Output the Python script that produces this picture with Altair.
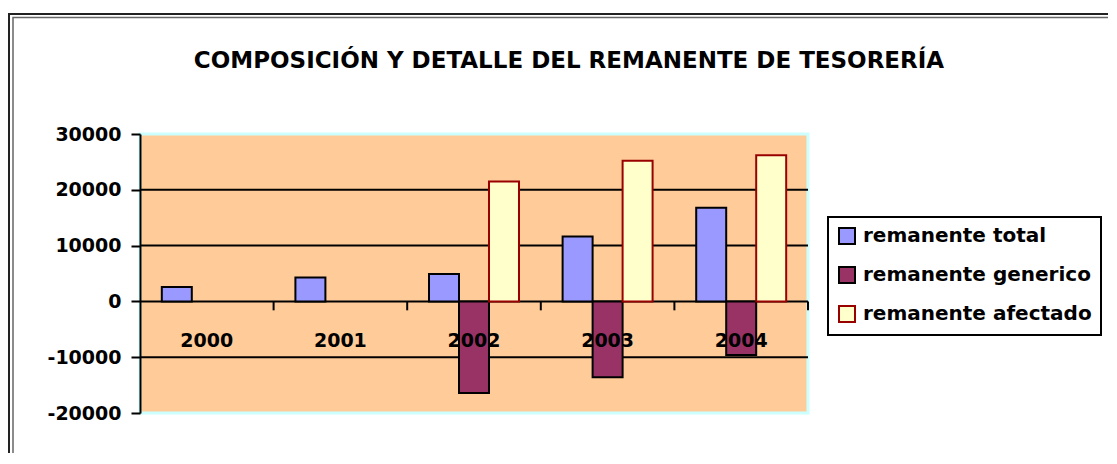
import altair as alt
import pandas as pd

years = ["2000", "2001", "2002", "2003", "2004"]
series = ["remanente total", "remanente generico", "remanente afectado"]
total = [2600, 4300, 4900, 11650, 16800]
generico = [None, None, -16400, -13600, -9600]
afectado = [None, None, 21500, 25200, 26200]
fill_colors = ["#9999FF", "#993366", "#FFFFCC"]
stroke_colors = ["#000000", "#000000", "#990000"]
y_ticks = [-20000, -10000, 0, 10000, 20000, 30000]
grid_values = [-10000, 0, 10000, 20000]
boundary_years = ["2001", "2002", "2003", "2004"]
title_text = "COMPOSICIÓN Y DETALLE DEL REMANENTE DE TESORERÍA"

rows = []
for name, vals in zip(series, [total, generico, afectado]):
    for yr, v in zip(years, vals):
        if v is not None:
            rows.append({"year": yr, "series": name, "value": v})
df = pd.DataFrame(rows)

FONT = "DejaVu Sans"
YDOM = alt.Scale(domain=[-20000, 30000], nice=False, zero=False)

leg = alt.Legend(
    title=None, orient="none", legendX=688, legendY=83,
    strokeColor="black", padding=9, symbolType="square", symbolSize=256,
    symbolStrokeWidth=2, labelFont=FONT, labelFontSize=20, labelFontWeight="bold",
    labelColor="black", rowPadding=15, labelOffset=6, labelLimit=400,
)

bars = alt.Chart(df).mark_bar(strokeWidth=2).encode(
    x=alt.X("year:N", scale=alt.Scale(domain=years, paddingInner=0, paddingOuter=0),
            axis=alt.Axis(title=None, orient="bottom", offset=-112, domain=False, ticks=False,
                          labelAngle=0, labelFont=FONT, labelFontSize=19, labelFontWeight="bold",
                          labelColor="black", labelPadding=30, zindex=1)),
    xOffset=alt.XOffset("series:N", scale=alt.Scale(domain=series, paddingInner=0, paddingOuter=0.727)),
    y=alt.Y("value:Q", scale=YDOM,
            axis=alt.Axis(values=y_ticks, title=None, grid=False, domainColor="black", domainWidth=2,
                          tickColor="black", tickWidth=2, tickSize=9, labelFont=FONT, labelFontSize=19,
                          labelFontWeight="bold", labelColor="black", labelPadding=10,
                          labelExpr="'' + datum.value")),
    fill=alt.Fill("series:N", scale=alt.Scale(domain=series, range=fill_colors), legend=leg),
    stroke=alt.Stroke("series:N", scale=alt.Scale(domain=series, range=stroke_colors), legend=leg),
)

grid = alt.Chart(pd.DataFrame({"g": grid_values})).mark_rule(color="black", strokeWidth=2).encode(
    y=alt.Y("g:Q", scale=YDOM)
)

ticks = alt.Chart(pd.DataFrame({"year": boundary_years})).mark_rule(color="black", strokeWidth=2).encode(
    x=alt.X("year:N", bandPosition=0),
    y=alt.datum(0), y2=alt.datum(-1600),
)
ticks_end = alt.Chart(pd.DataFrame({"year": [years[-1]]})).mark_rule(color="black", strokeWidth=2).encode(
    x=alt.X("year:N", bandPosition=1),
    y=alt.datum(0), y2=alt.datum(-1600),
)

frame_outer = alt.Chart(alt.Data(values=[{}])).mark_rect(fillOpacity=0, stroke="#222222", strokeWidth=2).encode(
    x=alt.value(-131), x2=alt.value(1100), y=alt.value(-120), y2=alt.value(500)
)
frame_inner = alt.Chart(alt.Data(values=[{}])).mark_rect(fillOpacity=0, stroke="#666666", strokeWidth=1.5).encode(
    x=alt.value(-127), x2=alt.value(1100), y=alt.value(-116.5), y2=alt.value(500)
)

chart = alt.layer(grid, bars, ticks, ticks_end, frame_outer, frame_inner).properties(
    width=668, height=279,
    autosize="none",
    padding={"left": 132, "top": 126, "right": 300, "bottom": 40},
    title=alt.TitleParams(title_text, font=FONT, fontSize=23, fontWeight="bold", color="black",
                          anchor="middle", dx=95, offset=-60),
).configure_view(fill="#FFCC99", stroke="#CCFFFF", strokeWidth=3).configure_legend(strokeWidth=2)

chart.save("out.html", embed_options={"renderer": "svg", "actions": False})
